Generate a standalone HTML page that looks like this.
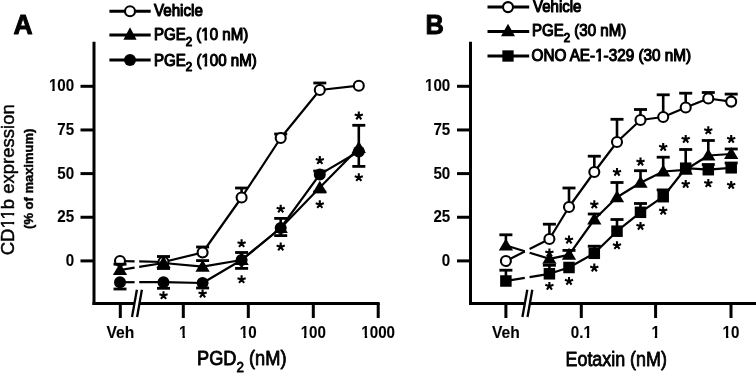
<!DOCTYPE html>
<html><head><meta charset="utf-8"><style>
html,body{margin:0;padding:0;background:#fff;overflow:hidden;}
svg{display:block;will-change:transform;}
svg text{font-family:"Liberation Sans", sans-serif;fill:#000;}
</style></head><body>
<svg width="756" height="373" viewBox="0 0 756 373" font-family='"Liberation Sans", sans-serif'>
<g stroke="#000">
<text id="t0" x="13.5" y="33.6" font-size="27.8" font-weight="bold" stroke="#000" stroke-width="1.0" stroke-linejoin="round" textLength="19.13" lengthAdjust="spacingAndGlyphs">A</text>
<text id="t1" x="425.5" y="33.6" font-size="27.8" font-weight="bold" stroke="#000" stroke-width="1.0" stroke-linejoin="round" textLength="18.32" lengthAdjust="spacingAndGlyphs">B</text>
<line x1="94.00" y1="41.80" x2="94.00" y2="304.90" stroke-width="3.0"/>
<line x1="92.50" y1="303.40" x2="379.60" y2="303.40" stroke-width="3.0"/>
<line x1="80.50" y1="260.90" x2="94.00" y2="260.90" stroke-width="3.0"/>
<text id="t2" x="74.20" y="265.90" font-size="16.3" font-weight="bold" text-anchor="end" stroke="#000" stroke-width="0.1" textLength="8.43" lengthAdjust="spacingAndGlyphs">0</text>
<line x1="80.50" y1="217.25" x2="94.00" y2="217.25" stroke-width="3.0"/>
<text id="t3" x="74.20" y="222.25" font-size="16.3" font-weight="bold" text-anchor="end" stroke="#000" stroke-width="0.1" textLength="16.86" lengthAdjust="spacingAndGlyphs">25</text>
<line x1="80.50" y1="173.60" x2="94.00" y2="173.60" stroke-width="3.0"/>
<text id="t4" x="74.20" y="178.60" font-size="16.3" font-weight="bold" text-anchor="end" stroke="#000" stroke-width="0.1" textLength="16.86" lengthAdjust="spacingAndGlyphs">50</text>
<line x1="80.50" y1="129.95" x2="94.00" y2="129.95" stroke-width="3.0"/>
<text id="t5" x="74.20" y="134.95" font-size="16.3" font-weight="bold" text-anchor="end" stroke="#000" stroke-width="0.1" textLength="16.86" lengthAdjust="spacingAndGlyphs">75</text>
<line x1="80.50" y1="86.30" x2="94.00" y2="86.30" stroke-width="3.0"/>
<text id="t6" x="74.20" y="91.30" font-size="16.3" font-weight="bold" text-anchor="end" stroke="#000" stroke-width="0.1" textLength="25.29" lengthAdjust="spacingAndGlyphs">100</text>
<line x1="120.30" y1="303.00" x2="120.30" y2="318.00" stroke-width="3.0"/>
<text id="t7" x="120.30" y="337.60" font-size="16.3" font-weight="bold" text-anchor="middle" stroke="#000" stroke-width="0.1" textLength="27.80" lengthAdjust="spacingAndGlyphs">Veh</text>
<line x1="183.30" y1="303.00" x2="183.30" y2="318.00" stroke-width="3.0"/>
<text id="t8" x="183.30" y="337.60" font-size="16.3" font-weight="bold" text-anchor="middle" stroke="#000" stroke-width="0.1" textLength="8.43" lengthAdjust="spacingAndGlyphs">1</text>
<line x1="248.30" y1="303.00" x2="248.30" y2="318.00" stroke-width="3.0"/>
<text id="t9" x="248.30" y="337.60" font-size="16.3" font-weight="bold" text-anchor="middle" stroke="#000" stroke-width="0.1" textLength="16.86" lengthAdjust="spacingAndGlyphs">10</text>
<line x1="313.30" y1="303.00" x2="313.30" y2="318.00" stroke-width="3.0"/>
<text id="t10" x="313.30" y="337.60" font-size="16.3" font-weight="bold" text-anchor="middle" stroke="#000" stroke-width="0.1" textLength="25.29" lengthAdjust="spacingAndGlyphs">100</text>
<line x1="378.20" y1="303.00" x2="378.20" y2="318.00" stroke-width="3.0"/>
<text id="t11" x="378.20" y="337.60" font-size="16.3" font-weight="bold" text-anchor="middle" stroke="#000" stroke-width="0.1" textLength="33.71" lengthAdjust="spacingAndGlyphs">1000</text>
<polygon points="136.90,289.7 141.90,289.7 137.10,317 132.00,317" fill="#fff" stroke="none"/>
<line x1="136.90" y1="289.70" x2="132.00" y2="317.00" stroke-width="2.3"/>
<line x1="141.90" y1="289.70" x2="137.10" y2="317.00" stroke-width="2.3"/>
<line x1="470.50" y1="41.80" x2="470.50" y2="304.90" stroke-width="3.0"/>
<line x1="469.00" y1="303.40" x2="756.00" y2="303.40" stroke-width="3.0"/>
<line x1="457.00" y1="260.90" x2="470.50" y2="260.90" stroke-width="3.0"/>
<text id="t12" x="450.30" y="265.90" font-size="16.3" font-weight="bold" text-anchor="end" stroke="#000" stroke-width="0.1" textLength="8.43" lengthAdjust="spacingAndGlyphs">0</text>
<line x1="457.00" y1="217.25" x2="470.50" y2="217.25" stroke-width="3.0"/>
<text id="t13" x="450.30" y="222.25" font-size="16.3" font-weight="bold" text-anchor="end" stroke="#000" stroke-width="0.1" textLength="16.86" lengthAdjust="spacingAndGlyphs">25</text>
<line x1="457.00" y1="173.60" x2="470.50" y2="173.60" stroke-width="3.0"/>
<text id="t14" x="450.30" y="178.60" font-size="16.3" font-weight="bold" text-anchor="end" stroke="#000" stroke-width="0.1" textLength="16.86" lengthAdjust="spacingAndGlyphs">50</text>
<line x1="457.00" y1="129.95" x2="470.50" y2="129.95" stroke-width="3.0"/>
<text id="t15" x="450.30" y="134.95" font-size="16.3" font-weight="bold" text-anchor="end" stroke="#000" stroke-width="0.1" textLength="16.86" lengthAdjust="spacingAndGlyphs">75</text>
<line x1="457.00" y1="86.30" x2="470.50" y2="86.30" stroke-width="3.0"/>
<text id="t16" x="450.30" y="91.30" font-size="16.3" font-weight="bold" text-anchor="end" stroke="#000" stroke-width="0.1" textLength="25.29" lengthAdjust="spacingAndGlyphs">100</text>
<line x1="505.90" y1="303.00" x2="505.90" y2="318.00" stroke-width="3.0"/>
<text id="t17" x="505.90" y="337.60" font-size="16.3" font-weight="bold" text-anchor="middle" stroke="#000" stroke-width="0.1" textLength="27.80" lengthAdjust="spacingAndGlyphs">Veh</text>
<line x1="581.30" y1="303.00" x2="581.30" y2="318.00" stroke-width="3.0"/>
<text id="t18" x="581.30" y="337.60" font-size="16.3" font-weight="bold" text-anchor="middle" stroke="#000" stroke-width="0.1" textLength="21.07" lengthAdjust="spacingAndGlyphs">0.1</text>
<line x1="655.60" y1="303.00" x2="655.60" y2="318.00" stroke-width="3.0"/>
<text id="t19" x="655.60" y="337.60" font-size="16.3" font-weight="bold" text-anchor="middle" stroke="#000" stroke-width="0.1" textLength="8.43" lengthAdjust="spacingAndGlyphs">1</text>
<line x1="731.00" y1="303.00" x2="731.00" y2="318.00" stroke-width="3.0"/>
<text id="t20" x="731.00" y="337.60" font-size="16.3" font-weight="bold" text-anchor="middle" stroke="#000" stroke-width="0.1" textLength="16.86" lengthAdjust="spacingAndGlyphs">10</text>
<polygon points="527.30,289.7 532.30,289.7 527.50,317 522.40,317" fill="#fff" stroke="none"/>
<line x1="527.30" y1="289.70" x2="522.40" y2="317.00" stroke-width="2.3"/>
<line x1="532.30" y1="289.70" x2="527.50" y2="317.00" stroke-width="2.3"/>
<text id="t21" x="197.0" y="365.4" font-size="19.6" font-weight="normal" stroke="#000" stroke-width="0.8" stroke-linejoin="round" textLength="89.51" lengthAdjust="spacingAndGlyphs">PGD<tspan font-size="14.5" dy="6.6">2</tspan><tspan dy="-6.6"> (nM)</tspan></text>
<text id="t22" x="565.5" y="365.9" font-size="19.6" font-weight="normal" stroke="#000" stroke-width="0.8" stroke-linejoin="round" textLength="101.39" lengthAdjust="spacingAndGlyphs">Eotaxin (nM)</text>
<text id="t23" transform="translate(14.0,255.30) rotate(-90)" x="0" y="0" font-size="19.0" font-weight="normal" stroke="#000" stroke-width="0.45" stroke-linejoin="round" textLength="151.06" lengthAdjust="spacingAndGlyphs">CD11b expression</text>
<text id="t24" transform="translate(32.9,228.90) rotate(-90)" x="0" y="0" font-size="13.6" font-weight="bold" stroke="#000" stroke-width="0.45" stroke-linejoin="round" textLength="100.16" lengthAdjust="spacingAndGlyphs">(% of maximum)</text>
<line x1="109.40" y1="11.30" x2="150.70" y2="11.30" stroke-width="3.0"/>
<circle cx="130.00" cy="11.30" r="5.0" fill="#fff" stroke-width="2.1"/>
<line x1="109.40" y1="35.10" x2="150.70" y2="35.10" stroke-width="3.0"/>
<polygon points="130.00,27.35 136.60,39.85 123.40,39.85" fill="#000" stroke="none"/>
<line x1="109.40" y1="60.10" x2="150.70" y2="60.10" stroke-width="3.0"/>
<circle cx="130.00" cy="60.10" r="6.0" fill="#000" stroke="none"/>
<text id="t25" x="154.0" y="16.4" font-size="15.7" font-weight="normal" stroke="#000" stroke-width="1.1" stroke-linejoin="round" textLength="48.83" lengthAdjust="spacingAndGlyphs">Vehicle</text>
<text id="t26" x="154.0" y="40.4" font-size="15.7" font-weight="normal" stroke="#000" stroke-width="1.1" stroke-linejoin="round" textLength="94.2" lengthAdjust="spacingAndGlyphs">PGE<tspan font-size="12" dy="5.6">2</tspan><tspan dy="-5.6"> (10 nM)</tspan></text>
<text id="t27" x="154.0" y="65.8" font-size="15.7" font-weight="normal" stroke="#000" stroke-width="1.1" stroke-linejoin="round" textLength="102.73" lengthAdjust="spacingAndGlyphs">PGE<tspan font-size="12" dy="5.6">2</tspan><tspan dy="-5.6"> (100 nM)</tspan></text>
<line x1="487.50" y1="7.10" x2="529.20" y2="7.10" stroke-width="3.0"/>
<circle cx="508.00" cy="7.10" r="5.0" fill="#fff" stroke-width="2.1"/>
<line x1="487.50" y1="31.50" x2="529.20" y2="31.50" stroke-width="3.0"/>
<polygon points="508.00,23.87 515.00,36.17 501.00,36.17" fill="#000" stroke="none"/>
<line x1="487.50" y1="56.00" x2="529.20" y2="56.00" stroke-width="3.0"/>
<rect x="502.35" y="50.35" width="11.3" height="11.3" fill="#000" stroke="none"/>
<text id="t28" x="533.0" y="11.8" font-size="15.7" font-weight="normal" stroke="#000" stroke-width="1.1" stroke-linejoin="round" textLength="48.42" lengthAdjust="spacingAndGlyphs">Vehicle</text>
<text id="t29" x="532.0" y="36.3" font-size="15.7" font-weight="normal" stroke="#000" stroke-width="1.1" stroke-linejoin="round" textLength="94.2" lengthAdjust="spacingAndGlyphs">PGE<tspan font-size="12" dy="5.6">2</tspan><tspan dy="-5.6"> (30 nM)</tspan></text>
<text id="t30" x="531.5" y="61.3" font-size="15.7" font-weight="normal" stroke="#000" stroke-width="1.1" stroke-linejoin="round" textLength="159.52" lengthAdjust="spacingAndGlyphs">ONO AE-1-329 (30 nM)</text>
<line x1="120.00" y1="261.00" x2="134.60" y2="261.34" stroke-width="2.2"/>
<polyline points="139.20,261.44 163.50,262.00 202.60,252.50 241.60,197.50 280.70,138.00 319.80,90.00 358.80,85.70" fill="none" stroke-width="2.2" stroke-linejoin="round"/>
<line x1="202.60" y1="252.50" x2="202.60" y2="247.00" stroke-width="2.6"/>
<rect x="196.10" y="245.60" width="13.0" height="2.8" fill="#000" stroke="none"/>
<line x1="241.60" y1="197.50" x2="241.60" y2="188.00" stroke-width="2.6"/>
<rect x="235.10" y="186.60" width="13.0" height="2.8" fill="#000" stroke="none"/>
<line x1="280.70" y1="138.00" x2="280.70" y2="134.00" stroke-width="2.6"/>
<rect x="274.20" y="132.60" width="13.0" height="2.8" fill="#000" stroke="none"/>
<line x1="319.80" y1="90.00" x2="319.80" y2="83.00" stroke-width="2.6"/>
<rect x="313.30" y="81.60" width="13.0" height="2.8" fill="#000" stroke="none"/>
<circle cx="120.00" cy="261.00" r="5.0" fill="#fff" stroke-width="2.1"/>
<circle cx="163.50" cy="262.00" r="5.0" fill="#fff" stroke-width="2.1"/>
<circle cx="202.60" cy="252.50" r="5.0" fill="#fff" stroke-width="2.1"/>
<circle cx="241.60" cy="197.50" r="5.0" fill="#fff" stroke-width="2.1"/>
<circle cx="280.70" cy="138.00" r="5.0" fill="#fff" stroke-width="2.1"/>
<circle cx="319.80" cy="90.00" r="5.0" fill="#fff" stroke-width="2.1"/>
<circle cx="358.80" cy="85.70" r="5.0" fill="#fff" stroke-width="2.1"/>
<line x1="120.00" y1="270.00" x2="134.60" y2="267.65" stroke-width="2.2"/>
<polyline points="139.20,266.91 163.50,263.00 202.60,266.60 241.60,260.00 280.70,228.00 319.80,187.60 358.80,148.00" fill="none" stroke-width="2.2" stroke-linejoin="round"/>
<line x1="120.00" y1="270.00" x2="120.00" y2="264.20" stroke-width="2.6"/>
<rect x="113.50" y="262.80" width="13.0" height="2.8" fill="#000" stroke="none"/>
<line x1="163.50" y1="263.00" x2="163.50" y2="256.50" stroke-width="2.6"/>
<rect x="157.00" y="255.10" width="13.0" height="2.8" fill="#000" stroke="none"/>
<line x1="163.50" y1="263.00" x2="163.50" y2="268.50" stroke-width="2.6"/>
<rect x="157.00" y="267.10" width="13.0" height="2.8" fill="#000" stroke="none"/>
<line x1="202.60" y1="266.60" x2="202.60" y2="260.60" stroke-width="2.6"/>
<rect x="196.10" y="259.20" width="13.0" height="2.8" fill="#000" stroke="none"/>
<line x1="241.60" y1="260.00" x2="241.60" y2="252.50" stroke-width="2.6"/>
<rect x="235.10" y="251.10" width="13.0" height="2.8" fill="#000" stroke="none"/>
<line x1="241.60" y1="260.00" x2="241.60" y2="268.40" stroke-width="2.6"/>
<rect x="235.10" y="267.00" width="13.0" height="2.8" fill="#000" stroke="none"/>
<line x1="280.70" y1="228.00" x2="280.70" y2="218.40" stroke-width="2.6"/>
<rect x="274.20" y="217.00" width="13.0" height="2.8" fill="#000" stroke="none"/>
<line x1="280.70" y1="228.00" x2="280.70" y2="235.60" stroke-width="2.6"/>
<rect x="274.20" y="234.20" width="13.0" height="2.8" fill="#000" stroke="none"/>
<line x1="319.80" y1="187.60" x2="319.80" y2="192.00" stroke-width="2.6"/>
<rect x="313.30" y="190.60" width="13.0" height="2.8" fill="#000" stroke="none"/>
<line x1="358.80" y1="148.00" x2="358.80" y2="125.30" stroke-width="2.6"/>
<rect x="352.30" y="123.90" width="13.0" height="2.8" fill="#000" stroke="none"/>
<polygon points="120.00,263.04 127.15,275.04 112.85,275.04" fill="#000" stroke="none"/>
<polygon points="163.50,256.04 170.65,268.04 156.35,268.04" fill="#000" stroke="none"/>
<polygon points="202.60,259.64 209.75,271.64 195.45,271.64" fill="#000" stroke="none"/>
<polygon points="241.60,253.04 248.75,265.04 234.45,265.04" fill="#000" stroke="none"/>
<polygon points="280.70,221.04 287.85,233.04 273.55,233.04" fill="#000" stroke="none"/>
<polygon points="319.80,180.64 326.95,192.64 312.65,192.64" fill="#000" stroke="none"/>
<polygon points="358.80,141.04 365.95,153.04 351.65,153.04" fill="#000" stroke="none"/>
<line x1="120.00" y1="282.20" x2="134.60" y2="282.20" stroke-width="2.2"/>
<polyline points="139.20,282.20 163.50,282.20 202.60,283.00 241.60,260.00 280.70,228.00 319.80,174.40 358.80,151.50" fill="none" stroke-width="2.2" stroke-linejoin="round"/>
<line x1="120.00" y1="282.20" x2="120.00" y2="289.00" stroke-width="2.6"/>
<rect x="113.50" y="287.60" width="13.0" height="2.8" fill="#000" stroke="none"/>
<line x1="163.50" y1="282.20" x2="163.50" y2="288.30" stroke-width="2.6"/>
<rect x="157.00" y="286.90" width="13.0" height="2.8" fill="#000" stroke="none"/>
<line x1="202.60" y1="283.00" x2="202.60" y2="288.00" stroke-width="2.6"/>
<rect x="196.10" y="286.60" width="13.0" height="2.8" fill="#000" stroke="none"/>
<line x1="319.80" y1="174.40" x2="319.80" y2="171.00" stroke-width="2.6"/>
<rect x="313.30" y="169.60" width="13.0" height="2.8" fill="#000" stroke="none"/>
<line x1="358.80" y1="151.50" x2="358.80" y2="166.40" stroke-width="2.6"/>
<rect x="352.30" y="165.00" width="13.0" height="2.8" fill="#000" stroke="none"/>
<circle cx="120.00" cy="282.20" r="6.0" fill="#000" stroke="none"/>
<circle cx="163.50" cy="282.20" r="6.0" fill="#000" stroke="none"/>
<circle cx="202.60" cy="283.00" r="6.0" fill="#000" stroke="none"/>
<circle cx="241.60" cy="260.00" r="6.0" fill="#000" stroke="none"/>
<circle cx="280.70" cy="228.00" r="6.0" fill="#000" stroke="none"/>
<circle cx="319.80" cy="174.40" r="6.0" fill="#000" stroke="none"/>
<circle cx="358.80" cy="151.50" r="6.0" fill="#000" stroke="none"/>
<path d="M163.50,295.50L163.50,291.20M163.50,295.50L167.59,294.17M163.50,295.50L166.03,298.98M163.50,295.50L160.97,298.98M163.50,295.50L159.41,294.17" stroke-width="2.1" fill="none"/>
<path d="M202.60,293.80L202.60,289.50M202.60,293.80L206.69,292.47M202.60,293.80L205.13,297.28M202.60,293.80L200.07,297.28M202.60,293.80L198.51,292.47" stroke-width="2.1" fill="none"/>
<path d="M241.60,243.50L241.60,239.20M241.60,243.50L245.69,242.17M241.60,243.50L244.13,246.98M241.60,243.50L239.07,246.98M241.60,243.50L237.51,242.17" stroke-width="2.1" fill="none"/>
<path d="M241.60,279.50L241.60,275.20M241.60,279.50L245.69,278.17M241.60,279.50L244.13,282.98M241.60,279.50L239.07,282.98M241.60,279.50L237.51,278.17" stroke-width="2.1" fill="none"/>
<path d="M280.70,209.00L280.70,204.70M280.70,209.00L284.79,207.67M280.70,209.00L283.23,212.48M280.70,209.00L278.17,212.48M280.70,209.00L276.61,207.67" stroke-width="2.1" fill="none"/>
<path d="M280.70,246.90L280.70,242.60M280.70,246.90L284.79,245.57M280.70,246.90L283.23,250.38M280.70,246.90L278.17,250.38M280.70,246.90L276.61,245.57" stroke-width="2.1" fill="none"/>
<path d="M319.80,160.30L319.80,156.00M319.80,160.30L323.89,158.97M319.80,160.30L322.33,163.78M319.80,160.30L317.27,163.78M319.80,160.30L315.71,158.97" stroke-width="2.1" fill="none"/>
<path d="M319.80,204.50L319.80,200.20M319.80,204.50L323.89,203.17M319.80,204.50L322.33,207.98M319.80,204.50L317.27,207.98M319.80,204.50L315.71,203.17" stroke-width="2.1" fill="none"/>
<path d="M358.80,115.80L358.80,111.50M358.80,115.80L362.89,114.47M358.80,115.80L361.33,119.28M358.80,115.80L356.27,119.28M358.80,115.80L354.71,114.47" stroke-width="2.1" fill="none"/>
<path d="M358.80,177.50L358.80,173.20M358.80,177.50L362.89,176.17M358.80,177.50L361.33,180.98M358.80,177.50L356.27,180.98M358.80,177.50L354.71,176.17" stroke-width="2.1" fill="none"/>
<line x1="505.90" y1="261.00" x2="524.80" y2="251.44" stroke-width="2.2"/>
<polyline points="529.60,249.01 549.40,239.00 569.00,207.00 594.30,172.00 617.00,142.00 640.50,120.00 663.20,117.00 685.70,107.50 708.30,98.50 731.20,101.60" fill="none" stroke-width="2.2" stroke-linejoin="round"/>
<line x1="549.40" y1="239.00" x2="549.40" y2="224.20" stroke-width="2.6"/>
<rect x="542.90" y="222.80" width="13.0" height="2.8" fill="#000" stroke="none"/>
<line x1="569.00" y1="207.00" x2="569.00" y2="188.00" stroke-width="2.6"/>
<rect x="562.50" y="186.60" width="13.0" height="2.8" fill="#000" stroke="none"/>
<line x1="594.30" y1="172.00" x2="594.30" y2="156.20" stroke-width="2.6"/>
<rect x="587.80" y="154.80" width="13.0" height="2.8" fill="#000" stroke="none"/>
<line x1="617.00" y1="142.00" x2="617.00" y2="119.30" stroke-width="2.6"/>
<rect x="610.50" y="117.90" width="13.0" height="2.8" fill="#000" stroke="none"/>
<line x1="640.50" y1="120.00" x2="640.50" y2="109.50" stroke-width="2.6"/>
<rect x="634.00" y="108.10" width="13.0" height="2.8" fill="#000" stroke="none"/>
<line x1="663.20" y1="117.00" x2="663.20" y2="94.80" stroke-width="2.6"/>
<rect x="656.70" y="93.40" width="13.0" height="2.8" fill="#000" stroke="none"/>
<line x1="685.70" y1="107.50" x2="685.70" y2="93.20" stroke-width="2.6"/>
<rect x="679.20" y="91.80" width="13.0" height="2.8" fill="#000" stroke="none"/>
<line x1="708.30" y1="98.50" x2="708.30" y2="92.50" stroke-width="2.6"/>
<rect x="701.80" y="91.10" width="13.0" height="2.8" fill="#000" stroke="none"/>
<line x1="731.20" y1="101.60" x2="731.20" y2="94.10" stroke-width="2.6"/>
<rect x="724.70" y="92.70" width="13.0" height="2.8" fill="#000" stroke="none"/>
<circle cx="505.90" cy="261.00" r="5.0" fill="#fff" stroke-width="2.1"/>
<circle cx="549.40" cy="239.00" r="5.0" fill="#fff" stroke-width="2.1"/>
<circle cx="569.00" cy="207.00" r="5.0" fill="#fff" stroke-width="2.1"/>
<circle cx="594.30" cy="172.00" r="5.0" fill="#fff" stroke-width="2.1"/>
<circle cx="617.00" cy="142.00" r="5.0" fill="#fff" stroke-width="2.1"/>
<circle cx="640.50" cy="120.00" r="5.0" fill="#fff" stroke-width="2.1"/>
<circle cx="663.20" cy="117.00" r="5.0" fill="#fff" stroke-width="2.1"/>
<circle cx="685.70" cy="107.50" r="5.0" fill="#fff" stroke-width="2.1"/>
<circle cx="708.30" cy="98.50" r="5.0" fill="#fff" stroke-width="2.1"/>
<circle cx="731.20" cy="101.60" r="5.0" fill="#fff" stroke-width="2.1"/>
<line x1="505.90" y1="245.50" x2="524.80" y2="251.28" stroke-width="2.2"/>
<polyline points="529.60,252.75 549.40,258.80 569.00,254.80 594.30,219.50 617.00,197.30 640.50,182.80 663.20,171.50 685.70,169.80 708.30,155.50 731.20,154.00" fill="none" stroke-width="2.2" stroke-linejoin="round"/>
<line x1="505.90" y1="245.50" x2="505.90" y2="234.80" stroke-width="2.6"/>
<rect x="499.40" y="233.40" width="13.0" height="2.8" fill="#000" stroke="none"/>
<line x1="569.00" y1="254.80" x2="569.00" y2="250.40" stroke-width="2.6"/>
<rect x="562.50" y="249.00" width="13.0" height="2.8" fill="#000" stroke="none"/>
<line x1="594.30" y1="219.50" x2="594.30" y2="214.00" stroke-width="2.6"/>
<rect x="587.80" y="212.60" width="13.0" height="2.8" fill="#000" stroke="none"/>
<line x1="617.00" y1="197.30" x2="617.00" y2="182.50" stroke-width="2.6"/>
<rect x="610.50" y="181.10" width="13.0" height="2.8" fill="#000" stroke="none"/>
<line x1="640.50" y1="182.80" x2="640.50" y2="170.70" stroke-width="2.6"/>
<rect x="634.00" y="169.30" width="13.0" height="2.8" fill="#000" stroke="none"/>
<line x1="663.20" y1="171.50" x2="663.20" y2="157.20" stroke-width="2.6"/>
<rect x="656.70" y="155.80" width="13.0" height="2.8" fill="#000" stroke="none"/>
<line x1="685.70" y1="169.80" x2="685.70" y2="149.50" stroke-width="2.6"/>
<rect x="679.20" y="148.10" width="13.0" height="2.8" fill="#000" stroke="none"/>
<line x1="708.30" y1="155.50" x2="708.30" y2="140.50" stroke-width="2.6"/>
<rect x="701.80" y="139.10" width="13.0" height="2.8" fill="#000" stroke="none"/>
<line x1="731.20" y1="154.00" x2="731.20" y2="149.00" stroke-width="2.6"/>
<rect x="724.70" y="147.60" width="13.0" height="2.8" fill="#000" stroke="none"/>
<polygon points="505.90,238.54 513.05,250.54 498.75,250.54" fill="#000" stroke="none"/>
<polygon points="549.40,251.84 556.55,263.84 542.25,263.84" fill="#000" stroke="none"/>
<polygon points="569.00,247.84 576.15,259.84 561.85,259.84" fill="#000" stroke="none"/>
<polygon points="594.30,212.54 601.45,224.54 587.15,224.54" fill="#000" stroke="none"/>
<polygon points="617.00,190.34 624.15,202.34 609.85,202.34" fill="#000" stroke="none"/>
<polygon points="640.50,175.84 647.65,187.84 633.35,187.84" fill="#000" stroke="none"/>
<polygon points="663.20,164.54 670.35,176.54 656.05,176.54" fill="#000" stroke="none"/>
<polygon points="685.70,162.84 692.85,174.84 678.55,174.84" fill="#000" stroke="none"/>
<polygon points="708.30,148.54 715.45,160.54 701.15,160.54" fill="#000" stroke="none"/>
<polygon points="731.20,147.04 738.35,159.04 724.05,159.04" fill="#000" stroke="none"/>
<line x1="505.90" y1="281.00" x2="524.80" y2="277.87" stroke-width="2.2"/>
<polyline points="529.60,277.08 549.40,273.80 569.00,267.50 594.30,253.30 617.00,231.20 640.50,212.30 663.20,196.70 685.70,168.20 708.30,169.70 731.20,167.80" fill="none" stroke-width="2.2" stroke-linejoin="round"/>
<line x1="505.90" y1="281.00" x2="505.90" y2="270.20" stroke-width="2.6"/>
<rect x="499.40" y="268.80" width="13.0" height="2.8" fill="#000" stroke="none"/>
<line x1="549.40" y1="273.80" x2="549.40" y2="265.30" stroke-width="2.6"/>
<rect x="542.90" y="263.90" width="13.0" height="2.8" fill="#000" stroke="none"/>
<line x1="594.30" y1="253.30" x2="594.30" y2="246.20" stroke-width="2.6"/>
<rect x="587.80" y="244.80" width="13.0" height="2.8" fill="#000" stroke="none"/>
<line x1="617.00" y1="231.20" x2="617.00" y2="219.50" stroke-width="2.6"/>
<rect x="610.50" y="218.10" width="13.0" height="2.8" fill="#000" stroke="none"/>
<line x1="640.50" y1="212.30" x2="640.50" y2="203.50" stroke-width="2.6"/>
<rect x="634.00" y="202.10" width="13.0" height="2.8" fill="#000" stroke="none"/>
<line x1="663.20" y1="196.70" x2="663.20" y2="189.90" stroke-width="2.6"/>
<rect x="656.70" y="188.50" width="13.0" height="2.8" fill="#000" stroke="none"/>
<line x1="708.30" y1="169.70" x2="708.30" y2="164.50" stroke-width="2.6"/>
<rect x="701.80" y="163.10" width="13.0" height="2.8" fill="#000" stroke="none"/>
<line x1="731.20" y1="167.80" x2="731.20" y2="163.00" stroke-width="2.6"/>
<rect x="724.70" y="161.60" width="13.0" height="2.8" fill="#000" stroke="none"/>
<rect x="500.15" y="275.25" width="11.5" height="11.5" fill="#000" stroke="none"/>
<rect x="543.65" y="268.05" width="11.5" height="11.5" fill="#000" stroke="none"/>
<rect x="563.25" y="261.75" width="11.5" height="11.5" fill="#000" stroke="none"/>
<rect x="588.55" y="247.55" width="11.5" height="11.5" fill="#000" stroke="none"/>
<rect x="611.25" y="225.45" width="11.5" height="11.5" fill="#000" stroke="none"/>
<rect x="634.75" y="206.55" width="11.5" height="11.5" fill="#000" stroke="none"/>
<rect x="657.45" y="190.95" width="11.5" height="11.5" fill="#000" stroke="none"/>
<rect x="679.95" y="162.45" width="11.5" height="11.5" fill="#000" stroke="none"/>
<rect x="702.55" y="163.95" width="11.5" height="11.5" fill="#000" stroke="none"/>
<rect x="725.45" y="162.05" width="11.5" height="11.5" fill="#000" stroke="none"/>
<path d="M549.40,252.80L549.40,248.50M549.40,252.80L553.49,251.47M549.40,252.80L551.93,256.28M549.40,252.80L546.87,256.28M549.40,252.80L545.31,251.47" stroke-width="2.1" fill="none"/>
<path d="M549.40,286.20L549.40,281.90M549.40,286.20L553.49,284.87M549.40,286.20L551.93,289.68M549.40,286.20L546.87,289.68M549.40,286.20L545.31,284.87" stroke-width="2.1" fill="none"/>
<path d="M569.00,239.80L569.00,235.50M569.00,239.80L573.09,238.47M569.00,239.80L571.53,243.28M569.00,239.80L566.47,243.28M569.00,239.80L564.91,238.47" stroke-width="2.1" fill="none"/>
<path d="M569.00,281.20L569.00,276.90M569.00,281.20L573.09,279.87M569.00,281.20L571.53,284.68M569.00,281.20L566.47,284.68M569.00,281.20L564.91,279.87" stroke-width="2.1" fill="none"/>
<path d="M594.30,204.60L594.30,200.30M594.30,204.60L598.39,203.27M594.30,204.60L596.83,208.08M594.30,204.60L591.77,208.08M594.30,204.60L590.21,203.27" stroke-width="2.1" fill="none"/>
<path d="M594.30,267.90L594.30,263.60M594.30,267.90L598.39,266.57M594.30,267.90L596.83,271.38M594.30,267.90L591.77,271.38M594.30,267.90L590.21,266.57" stroke-width="2.1" fill="none"/>
<path d="M617.00,172.20L617.00,167.90M617.00,172.20L621.09,170.87M617.00,172.20L619.53,175.68M617.00,172.20L614.47,175.68M617.00,172.20L612.91,170.87" stroke-width="2.1" fill="none"/>
<path d="M617.00,245.50L617.00,241.20M617.00,245.50L621.09,244.17M617.00,245.50L619.53,248.98M617.00,245.50L614.47,248.98M617.00,245.50L612.91,244.17" stroke-width="2.1" fill="none"/>
<path d="M640.50,161.90L640.50,157.60M640.50,161.90L644.59,160.57M640.50,161.90L643.03,165.38M640.50,161.90L637.97,165.38M640.50,161.90L636.41,160.57" stroke-width="2.1" fill="none"/>
<path d="M640.50,226.20L640.50,221.90M640.50,226.20L644.59,224.87M640.50,226.20L643.03,229.68M640.50,226.20L637.97,229.68M640.50,226.20L636.41,224.87" stroke-width="2.1" fill="none"/>
<path d="M663.20,147.20L663.20,142.90M663.20,147.20L667.29,145.87M663.20,147.20L665.73,150.68M663.20,147.20L660.67,150.68M663.20,147.20L659.11,145.87" stroke-width="2.1" fill="none"/>
<path d="M663.20,210.80L663.20,206.50M663.20,210.80L667.29,209.47M663.20,210.80L665.73,214.28M663.20,210.80L660.67,214.28M663.20,210.80L659.11,209.47" stroke-width="2.1" fill="none"/>
<path d="M685.70,139.20L685.70,134.90M685.70,139.20L689.79,137.87M685.70,139.20L688.23,142.68M685.70,139.20L683.17,142.68M685.70,139.20L681.61,137.87" stroke-width="2.1" fill="none"/>
<path d="M685.70,184.20L685.70,179.90M685.70,184.20L689.79,182.87M685.70,184.20L688.23,187.68M685.70,184.20L683.17,187.68M685.70,184.20L681.61,182.87" stroke-width="2.1" fill="none"/>
<path d="M708.30,130.50L708.30,126.20M708.30,130.50L712.39,129.17M708.30,130.50L710.83,133.98M708.30,130.50L705.77,133.98M708.30,130.50L704.21,129.17" stroke-width="2.1" fill="none"/>
<path d="M708.30,183.30L708.30,179.00M708.30,183.30L712.39,181.97M708.30,183.30L710.83,186.78M708.30,183.30L705.77,186.78M708.30,183.30L704.21,181.97" stroke-width="2.1" fill="none"/>
<path d="M731.20,139.20L731.20,134.90M731.20,139.20L735.29,137.87M731.20,139.20L733.73,142.68M731.20,139.20L728.67,142.68M731.20,139.20L727.11,137.87" stroke-width="2.1" fill="none"/>
<path d="M731.20,185.20L731.20,180.90M731.20,185.20L735.29,183.87M731.20,185.20L733.73,188.68M731.20,185.20L728.67,188.68M731.20,185.20L727.11,183.87" stroke-width="2.1" fill="none"/>
</g>
<g fill="#fff" stroke="none"><rect x="48.67" y="88.72" width="3.61" height="4.18"/><rect x="54.72" y="88.72" width="3.38" height="4.18"/></g>
<g fill="#fff" stroke="none"><rect x="178.84" y="335.02" width="3.61" height="4.18"/><rect x="184.90" y="335.02" width="3.38" height="4.18"/></g>
<g fill="#fff" stroke="none"><rect x="239.63" y="335.02" width="3.61" height="4.18"/><rect x="245.68" y="335.02" width="3.38" height="4.18"/></g>
<g fill="#fff" stroke="none"><rect x="300.41" y="335.02" width="3.61" height="4.18"/><rect x="306.47" y="335.02" width="3.38" height="4.18"/></g>
<g fill="#fff" stroke="none"><rect x="361.10" y="335.02" width="3.61" height="4.18"/><rect x="367.16" y="335.02" width="3.38" height="4.18"/></g>
<g fill="#fff" stroke="none"><rect x="424.77" y="88.72" width="3.61" height="4.18"/><rect x="430.82" y="88.72" width="3.38" height="4.18"/></g>
<g fill="#fff" stroke="none"><rect x="583.16" y="335.02" width="3.61" height="4.18"/><rect x="589.21" y="335.02" width="3.38" height="4.18"/></g>
<g fill="#fff" stroke="none"><rect x="651.14" y="335.02" width="3.61" height="4.18"/><rect x="657.20" y="335.02" width="3.38" height="4.18"/></g>
<g fill="#fff" stroke="none"><rect x="722.33" y="335.02" width="3.61" height="4.18"/><rect x="728.38" y="335.02" width="3.38" height="4.18"/></g>
<g transform="translate(14.0,255.30) rotate(-90)" fill="#fff" stroke="none"><rect x="26.87" y="-2.55" width="4.15" height="4.15"/><rect x="33.34" y="-2.55" width="3.87" height="4.15"/><rect x="35.80" y="-2.55" width="4.15" height="4.15"/><rect x="42.27" y="-2.55" width="3.87" height="4.15"/></g>
<g fill="#fff" stroke="none"><rect x="201.27" y="37.77" width="3.16" height="4.23"/><rect x="207.11" y="37.77" width="2.93" height="4.23"/></g>
<g fill="#fff" stroke="none"><rect x="201.35" y="63.17" width="3.16" height="4.23"/><rect x="207.20" y="63.17" width="2.94" height="4.23"/></g>
<g fill="#fff" stroke="none"><rect x="595.04" y="58.67" width="3.20" height="4.23"/><rect x="600.94" y="58.67" width="2.97" height="4.23"/></g>
</svg>
</body></html>
